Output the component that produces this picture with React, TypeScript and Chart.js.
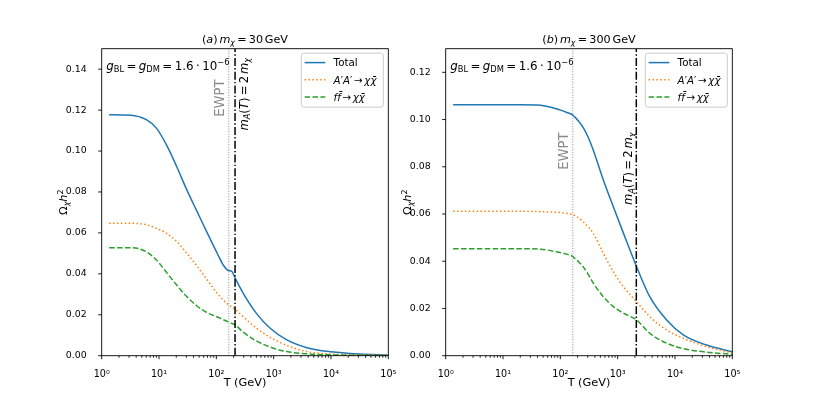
import { useEffect, useRef } from "react";
import { Chart, registerables } from "chart.js";

Chart.register(...registerables);

const FONT = '"DejaVu Sans"';
const BLUE = "#1f77b4";
const ORANGE = "#ff7f0e";
const GREEN = "#2ca02c";

// panel (a), m_chi = 30 GeV : temperature (GeV) and Omega h^2
const tempsA = [1.35, 3.2, 6, 9, 13.5, 20.5, 30, 46, 68, 107, 132, 162, 186, 214, 295, 500, 870, 1700, 3800, 10000, 31600, 100000];
const totalA = [0.1177, 0.1175, 0.1153, 0.1112, 0.103, 0.0922, 0.0815, 0.0705, 0.0605, 0.0492, 0.0443, 0.0416, 0.0412, 0.0378, 0.0305, 0.0207, 0.0134, 0.0077, 0.0039, 0.0019, 0.0008, 0.0003];
const vectorA = [0.0647, 0.0647, 0.064, 0.0622, 0.0598, 0.0557, 0.0503, 0.0438, 0.0373, 0.03, 0.0272, 0.025, 0.0238, 0.0226, 0.019, 0.0135, 0.009, 0.005, 0.002, 0.0008, 0.0004, 0.0002];
const fermionA = [0.0528, 0.0528, 0.0508, 0.0468, 0.0407, 0.0344, 0.029, 0.0243, 0.0211, 0.0188, 0.0176, 0.0165, 0.0158, 0.015, 0.0115, 0.0072, 0.0042, 0.002, 0.0009, 0.0004, 0.0002, 0.0001];

// panel (b), m_chi = 300 GeV
const tempsB = [1.35, 6.3, 20, 45, 98, 130, 165, 180, 210, 251, 310, 376, 562, 840, 1260, 2140, 3630, 7160, 13960, 35500, 100000];
const totalB = [0.1063, 0.1063, 0.1063, 0.1061, 0.1041, 0.103, 0.1019, 0.101, 0.0992, 0.0966, 0.0922, 0.087, 0.0744, 0.0631, 0.0519, 0.0377, 0.025, 0.0151, 0.0088, 0.0045, 0.0017];
const vectorB = [0.0612, 0.0612, 0.0612, 0.061, 0.0606, 0.0603, 0.0598, 0.0593, 0.0583, 0.0567, 0.0544, 0.0518, 0.0434, 0.0356, 0.0292, 0.0228, 0.0165, 0.0109, 0.0074, 0.0038, 0.0012];
const fermionB = [0.0453, 0.0453, 0.0453, 0.0451, 0.0437, 0.043, 0.042, 0.0411, 0.0397, 0.0376, 0.0342, 0.0307, 0.025, 0.0208, 0.018, 0.0151, 0.0095, 0.0053, 0.003, 0.0015, 0.0006];

const panelTags = ["a", "b"];
const masses = ["30", "300"];
const ewptT = 165;
const thresholdT = [212, 2115];
const yMaxes = [0.15, 0.13];
const yStep = 0.02;
const couplingText = "1.6";
const xMajorTicks = [1, 10, 100, 1000, 10000, 100000];
const xTickLabels = ["10⁰", "10¹", "10²", "10³", "10⁴", "10⁵"];

const xMinorTicks: number[] = [];
for (let e = 0; e < 5; e++) for (let d = 2; d <= 9; d++) xMinorTicks.push(d * 10 ** e);
const allXTicks = [...xMajorTicks, ...xMinorTicks].sort((a, b) => a - b);

const W = 814;
const H = 407;
const TOP = 48.7;
const BOTTOM = 355.7;
const layouts = [
  { left: 101.7, right: 388.3, ewptLabelY: 0.1167, thrLabelY: 0.11, thrSide: 1 },
  { left: 445.7, right: 732.3, ewptLabelY: 0.0787, thrLabelY: 0.0638, thrSide: -1 },
];

// rich text piece: gap is an empty space in em
type Part = { t?: string; it?: boolean; sub?: boolean; sup?: boolean; gap?: number };
const sp: Part = { gap: 0.2 };
const thin: Part = { gap: 0.16 };

const styles = [
  { color: BLUE, dash: [] as number[] },
  { color: ORANGE, dash: [1.5, 2.4] },
  { color: GREEN, dash: [5.5, 2.4] },
];
const legendParts: Part[][] = [
  [{ t: "Total" }],
  [{ t: "A", it: true }, { t: "′" }, { t: "A", it: true }, { t: "′" }, thin, { t: "→" }, thin, { t: "χ", it: true }, { t: "χ̄", it: true }],
  [{ t: "f", it: true }, { t: "f̄", it: true }, thin, { t: "→" }, thin, { t: "χ", it: true }, { t: "χ̄", it: true }],
];

function drawRich(ctx: CanvasRenderingContext2D, parts: Part[], x: number, y: number, size: number, align: "left" | "center" = "left") {
  const fontOf = (p: Part) => `${p.it ? "italic " : ""}${p.sub || p.sup ? size * 0.7 : size}px ${FONT}`;
  const widths = parts.map((p) => {
    if (p.gap) return p.gap * size;
    ctx.font = fontOf(p);
    return ctx.measureText(p.t || "").width;
  });
  const total = widths.reduce((a, b) => a + b, 0);
  let cx = align === "center" ? x - total / 2 : x;
  ctx.textAlign = "left";
  ctx.textBaseline = "alphabetic";
  parts.forEach((p, k) => {
    if (p.t) {
      ctx.font = fontOf(p);
      ctx.fillText(p.t, cx, y + (p.sub ? size * 0.2 : p.sup ? -size * 0.38 : 0));
    }
    cx += widths[k];
  });
}

function drawRotated(ctx: CanvasRenderingContext2D, parts: Part[], cx: number, y: number, size: number, align: "left" | "center", color: string) {
  ctx.save();
  ctx.translate(cx + size * 0.36, y);
  ctx.rotate(-Math.PI / 2);
  ctx.fillStyle = color;
  drawRich(ctx, parts, 0, 0, size, align);
  ctx.restore();
}

function decor(i: number) {
  const L = layouts[i];
  return {
    id: "decor" + i,
    afterDraw(chart: any) {
      const ctx: CanvasRenderingContext2D = chart.ctx;
      const a = chart.chartArea;
      const xs = chart.scales.x;
      const ys = chart.scales.y;
      ctx.save();

      // frame and tick marks
      ctx.strokeStyle = "#000";
      ctx.lineWidth = 0.9;
      ctx.strokeRect(a.left, a.top, a.right - a.left, a.bottom - a.top);
      ctx.beginPath();
      xs.ticks.forEach((t: any) => {
        const px = xs.getPixelForValue(t.value);
        const len = xMajorTicks.includes(t.value) ? 3.5 : 2;
        ctx.moveTo(px, a.bottom);
        ctx.lineTo(px, a.bottom + len);
      });
      ys.ticks.forEach((t: any) => {
        const py = ys.getPixelForValue(t.value);
        ctx.moveTo(a.left - 3.5, py);
        ctx.lineTo(a.left, py);
      });
      ctx.stroke();

      ctx.fillStyle = "#000";
      const mid = (a.left + a.right) / 2;
      drawRich(
        ctx,
        [{ t: "(" }, { t: panelTags[i], it: true }, { t: ")" }, thin, { t: "m", it: true }, { t: "χ", it: true, sub: true }, sp, { t: "=" }, sp, { t: masses[i] }, thin, { t: "GeV" }],
        mid, 43, 11.2, "center"
      );
      drawRich(ctx, [{ t: "T (GeV)" }], mid, 385.5, 11.3, "center");
      drawRotated(ctx, [{ t: "Ω" }, { t: "χ", it: true, sub: true }, { t: "h", it: true }, { t: "2", sup: true }], a.left - 38.7, (a.top + a.bottom) / 2, 11.3, "center", "#000");

      drawRich(
        ctx,
        [
          { t: "g", it: true }, { t: "BL", sub: true }, sp, { t: "=" }, sp,
          { t: "g", it: true }, { t: "DM", sub: true }, sp, { t: "=" }, sp,
          { t: couplingText }, sp, { t: "·" }, sp, { t: "10" }, { t: "−6", sup: true },
        ],
        a.left + 4.5, a.top + 21, 11.9
      );

      const ex = xs.getPixelForValue(ewptT);
      drawRotated(ctx, [{ t: "EWPT" }], ex - 9.4, ys.getPixelForValue(L.ewptLabelY), 13.2, "left", "#8c8c8c");
      const tx = xs.getPixelForValue(thresholdT[i]);
      drawRotated(
        ctx,
        [{ t: "m", it: true }, { t: "A", it: true, sub: true }, { t: "(" }, { t: "T", it: true }, { t: ")" }, sp, { t: "=" }, sp, { t: "2" }, thin, { t: "m", it: true }, { t: "χ", it: true, sub: true }],
        tx + L.thrSide * 8.3, ys.getPixelForValue(L.thrLabelY), 11.6, "left", "#000"
      );

      // legend
      const lw = 82;
      const lh = 54;
      const bx = a.right - 5 - lw;
      const by = a.top + 4.4;
      ctx.beginPath();
      ctx.roundRect(bx, by, lw, lh, 2.5);
      ctx.fillStyle = "rgba(255,255,255,0.8)";
      ctx.fill();
      ctx.strokeStyle = "#cccccc";
      ctx.lineWidth = 1;
      ctx.stroke();
      legendParts.forEach((parts, k) => {
        const ry = by + 9.5 + k * 17.2;
        ctx.beginPath();
        ctx.setLineDash(styles[k].dash);
        ctx.strokeStyle = styles[k].color;
        ctx.lineWidth = 1.5;
        ctx.moveTo(bx + 3.3, ry);
        ctx.lineTo(bx + 24, ry);
        ctx.stroke();
        ctx.setLineDash([]);
        ctx.fillStyle = "#000";
        drawRich(ctx, parts, bx + 32.3, ry + 3.7, 10.3);
      });
      ctx.restore();
    },
  };
}

function makeChart(canvas: HTMLCanvasElement, i: number) {
  const L = layouts[i];
  const temps = i === 0 ? tempsA : tempsB;
  const series = i === 0 ? [totalA, vectorA, fermionA] : [totalB, vectorB, fermionB];
  const names = ["Total", "A'A' → χχ̄", "ff̄ → χχ̄"];
  const yMax = yMaxes[i];

  const curves = series.map((vals, k) => ({
    label: names[k],
    data: temps.map((t, j) => ({ x: t, y: vals[j] })),
    borderColor: styles[k].color,
    borderDash: styles[k].dash,
    borderWidth: 1.5,
    pointRadius: 0,
    cubicInterpolationMode: "monotone",
    fill: false,
    order: 3 - k,
  }));
  const vlines = [
    {
      label: "EWPT",
      data: [{ x: ewptT, y: 0 }, { x: ewptT, y: yMax }],
      borderColor: "#8c8c8c",
      borderDash: [1, 1.6],
      borderWidth: 1,
      pointRadius: 0,
      order: 0,
    },
    {
      label: "threshold",
      data: [{ x: thresholdT[i], y: 0 }, { x: thresholdT[i], y: yMax }],
      borderColor: "#000",
      borderDash: [8, 2.2, 1.4, 2.2],
      borderWidth: 1.5,
      pointRadius: 0,
      order: 0,
    },
  ];

  return new Chart(canvas, {
    type: "line",
    data: { datasets: [...curves, ...vlines] as any },
    options: {
      animation: false,
      responsive: false,
      events: [],
      layout: { padding: { left: 0, right: W - L.right, top: TOP, bottom: 0 } },
      plugins: { legend: { display: false }, tooltip: { enabled: false } },
      scales: {
        x: {
          type: "logarithmic",
          min: 1,
          max: 100000,
          grid: { display: false },
          border: { display: false },
          afterBuildTicks: (s: any) => {
            s.ticks = allXTicks.map((v) => ({ value: v }));
          },
          afterFit: (s: any) => {
            s.height = H - BOTTOM;
          },
          ticks: {
            autoSkip: false,
            maxRotation: 0,
            padding: 5,
            color: "#000",
            font: { family: FONT, size: 9.6 },
            callback: (v: any) => {
              const k = xMajorTicks.indexOf(Number(v));
              return k >= 0 ? xTickLabels[k] : "";
            },
          },
        },
        y: {
          type: "linear",
          min: 0,
          max: yMax,
          grid: { display: false },
          border: { display: false },
          afterFit: (s: any) => {
            s.width = L.left;
          },
          ticks: {
            stepSize: yStep,
            includeBounds: false,
            padding: 7,
            color: "#000",
            font: { family: FONT, size: 9.4 },
            callback: (v: any) => Number(v).toFixed(2),
          },
        },
      },
    } as any,
    plugins: [decor(i)],
  });
}

export default function App() {
  const refA = useRef<HTMLCanvasElement>(null);
  const refB = useRef<HTMLCanvasElement>(null);

  useEffect(() => {
    const charts = [refA, refB].map((r, i) => makeChart(r.current!, i));
    return () => charts.forEach((c) => c.destroy());
  }, []);

  const cstyle: any = { position: "absolute", left: 0, top: 0, width: W, height: H };
  return (
    <div style={{ position: "fixed", left: 0, top: 0, width: W, height: H, background: "#fff" }}>
      <canvas ref={refA} width={W} height={H} style={cstyle} />
      <canvas ref={refB} width={W} height={H} style={cstyle} />
    </div>
  );
}
